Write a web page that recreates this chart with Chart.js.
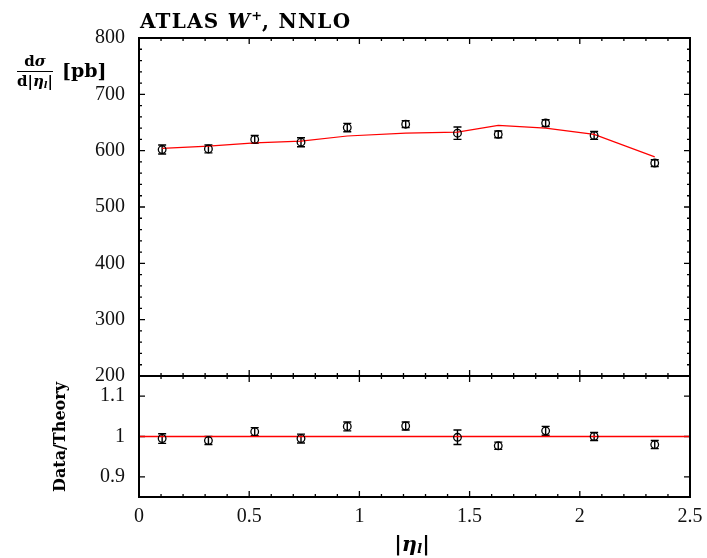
<!DOCTYPE html>
<html>
<head>
<meta charset="utf-8">
<script src="https://cdn.jsdelivr.net/npm/chart.js@4.4.0/dist/chart.umd.min.js"></script>
<style>
    body { margin: 0; background: #fff; width: 707px; height: 558px; position: relative; overflow: hidden; font-family: "Liberation Serif", serif; }
    #topBox { position: absolute; left: 0; top: 0; width: 707px; height: 400px; }
    #botBox { position: absolute; left: 0; top: 360px; width: 707px; height: 198px; }
    .lbl { position: absolute; color: #000; white-space: nowrap; font-weight: bold; line-height: 1; font-family: "DejaVu Serif", serif; }
    #title { left: 140px; top: 9px; font-size: 20px; letter-spacing: 1.2px; }
    #title sup { font-size: 13px; vertical-align: 8px; letter-spacing: 0; }
    #ylab { left: 17px; top: 54px; font-size: 19px; }
    .frac { display: inline-block; text-align: center; vertical-align: middle; font-size: 15px; margin-right: 9px; }
    .frac .num { display: block; border-bottom: 1px solid #000; padding: 0 1px 2px; }
    .frac .den { display: block; padding-top: 2px; }
    .frac sub, #xlab sub { font-size: 65%; vertical-align: -2px; }
    #rlab { left: 60px; top: 437px; font-size: 16px; transform: translate(-50%, -50%) rotate(-90deg); }
    #xlab { left: 412px; top: 533px; font-size: 21px; transform: translateX(-50%); }
</style>
</head>
<body>
<div id="topBox"><canvas id="xsecChart" width="707" height="400"></canvas></div>
<div id="botBox"><canvas id="ratioChart" width="707" height="198"></canvas></div>

<div class="lbl" id="title">ATLAS <i>W</i><sup>+</sup>, NNLO</div>
<div class="lbl" id="ylab"><span class="frac"><span class="num">d<i>σ</i></span><span class="den">d|<i>η<sub>l</sub></i>|</span></span>[pb]</div>
<div class="lbl" id="rlab">Data/Theory</div>
<div class="lbl" id="xlab">|<i>η<sub>l</sub></i>|</div>

<script>
// bins in |eta_l| (bin centres)
const etaCenters = [0.105, 0.315, 0.525, 0.735, 0.945, 1.21, 1.445, 1.63, 1.845, 2.065, 2.34];

// measured cross section [pb] and errors
const dataXsec = [602, 603, 620, 615, 641, 647, 631, 629, 649, 627, 578];
const dataXsecErr = [8, 7, 7, 8, 7.5, 6, 11, 6, 6, 7, 6];

// NNLO prediction [pb]
const theoryXsec = [604, 608, 614, 617, 626, 631, 633, 645, 640, 629, 589];

// data / theory
const ratioVals = [0.995, 0.990, 1.012, 0.995, 1.025, 1.026, 0.998, 0.977, 1.014, 1.000, 0.980];
const ratioErr = [0.012, 0.010, 0.010, 0.011, 0.011, 0.010, 0.018, 0.009, 0.011, 0.010, 0.010];
const ratioRef = [1, 1];

// axes
const xRange = [0, 2.5];
const xTicks = [0, 0.5, 1, 1.5, 2, 2.5];
const xsecTicks = [200, 300, 400, 500, 600, 700, 800];
const ratioTicks = [0.9, 1, 1.1];

const tickFont = { family: '"Liberation Serif", serif', size: 20 };
const tickColor = '#111';

// error bars with small caps, drawn under the open circles
const errorBars = {
    id: 'errorBars',
    beforeDatasetsDraw(chart) {
        const ctx = chart.ctx;
        const yScale = chart.scales.y;
        chart.data.datasets.forEach((ds, i) => {
            if (!ds.errors) return;
            const meta = chart.getDatasetMeta(i);
            ctx.save();
            ctx.strokeStyle = '#000';
            ctx.lineWidth = 1.4;
            meta.data.forEach((pt, j) => {
                const v = ds.data[j].y;
                const yHi = yScale.getPixelForValue(v + ds.errors[j]);
                const yLo = yScale.getPixelForValue(v - ds.errors[j]);
                ctx.beginPath();
                ctx.moveTo(pt.x, yHi); ctx.lineTo(pt.x, yLo);
                ctx.moveTo(pt.x - 4, yHi); ctx.lineTo(pt.x + 4, yHi);
                ctx.moveTo(pt.x - 4, yLo); ctx.lineTo(pt.x + 4, yLo);
                ctx.stroke();
            });
            ctx.restore();
        });
    }
};

// gnuplot-like frame with inward ticks on all four sides
// ticks go under the curves, the frame on top
const frameTicks = {
    id: 'frameTicks',
    beforeDatasetsDraw(chart, args, opts) {
        const { ctx, chartArea: a, scales: { x, y } } = chart;
        ctx.save();
        ctx.strokeStyle = '#000';
        ctx.lineWidth = 1.3;
        ctx.beginPath();
        // x ticks: major + minor
        const nx = Math.round((x.max - x.min) / opts.xMinor);
        for (let i = 0; i <= nx; i++) {
            const v = x.min + i * opts.xMinor;
            const len = (i % opts.xEvery === 0) ? 6 : 3;
            const px = x.getPixelForValue(v);
            ctx.moveTo(px, a.bottom); ctx.lineTo(px, a.bottom - len);
            ctx.moveTo(px, a.top); ctx.lineTo(px, a.top + len);
        }
        // y ticks
        const ny = Math.round((opts.yEnd - opts.yStart) / opts.yMinor);
        for (let i = 0; i <= ny; i++) {
            const v = opts.yStart + i * opts.yMinor;
            const len = (i % opts.yEvery === 0) ? 6 : 3;
            const py = y.getPixelForValue(v);
            ctx.moveTo(a.left, py); ctx.lineTo(a.left + len, py);
            ctx.moveTo(a.right, py); ctx.lineTo(a.right - len, py);
        }
        ctx.stroke();
        ctx.restore();
    },
    afterDatasetsDraw(chart) {
        const { ctx, chartArea: a } = chart;
        ctx.save();
        ctx.strokeStyle = '#000';
        ctx.lineWidth = 2;
        ctx.strokeRect(a.left, a.top, a.right - a.left, a.bottom - a.top);
        ctx.restore();
    }
};

const pts = (xs, ys) => xs.map((v, i) => ({ x: v, y: ys[i] }));

const markerStyle = {
    showLine: false,
    pointStyle: 'circle',
    pointRadius: 3.8,
    pointBorderWidth: 1.3,
    pointBorderColor: '#000',
    pointBackgroundColor: 'rgba(0,0,0,0)'
};

// keep the plot area where the layout padding puts it (tick labels may overhang)
const fixYWidth = s => { s.width = 139; s.paddingTop = 0; s.paddingBottom = 0; };
const fixXHeight = s => { s.height = 61; s.paddingLeft = 0; s.paddingRight = 0; };

new Chart(document.getElementById('xsecChart'), {
    type: 'scatter',
    data: {
        datasets: [
            {
                label: 'NNLO',
                data: pts(etaCenters, theoryXsec),
                showLine: true,
                borderColor: '#ff0000',
                borderWidth: 1.2,
                pointRadius: 0,
                order: 2
            },
            Object.assign({ label: 'ATLAS', data: pts(etaCenters, dataXsec), errors: dataXsecErr, order: 1 }, markerStyle)
        ]
    },
    options: {
        responsive: false,
        animation: false,
        layout: { padding: { left: 0, right: 17, top: 38, bottom: 24 } },
        plugins: {
            legend: { display: false },
            tooltip: { enabled: false },
            frameTicks: { xMinor: 0.1, xEvery: 5, yStart: 200, yEnd: 800, yMinor: 20, yEvery: 5 }
        },
        scales: {
            x: { type: 'linear', min: xRange[0], max: xRange[1], display: false },
            y: {
                type: 'linear', min: 200, max: 800,
                afterBuildTicks: s => { s.ticks = xsecTicks.map(v => ({ value: v })); },
                afterFit: fixYWidth,
                grid: { display: false, drawTicks: false },
                border: { display: false },
                ticks: { font: tickFont, color: tickColor, padding: 14 }
            }
        }
    },
    plugins: [errorBars, frameTicks]
});

new Chart(document.getElementById('ratioChart'), {
    type: 'scatter',
    data: {
        datasets: [
            {
                label: 'Theory',
                data: pts(xRange, ratioRef),
                showLine: true,
                borderColor: '#ff0000',
                borderWidth: 1.4,
                pointRadius: 0,
                order: 2
            },
            Object.assign({ label: 'Data/Theory', data: pts(etaCenters, ratioVals), errors: ratioErr, order: 1 }, markerStyle)
        ]
    },
    options: {
        responsive: false,
        animation: false,
        layout: { padding: { left: 0, right: 17, top: 16, bottom: 0 } },
        plugins: {
            legend: { display: false },
            tooltip: { enabled: false },
            frameTicks: { xMinor: 0.1, xEvery: 5, yStart: 0.9, yEnd: 1.1, yMinor: 0.1, yEvery: 1 }
        },
        scales: {
            x: {
                type: 'linear', min: xRange[0], max: xRange[1],
                afterBuildTicks: s => { s.ticks = xTicks.map(v => ({ value: v })); },
                afterFit: fixXHeight,
                grid: { display: false, drawTicks: false },
                border: { display: false },
                ticks: { font: tickFont, color: tickColor, padding: 8, maxRotation: 0, callback: v => String(v) }
            },
            y: {
                type: 'linear', min: 0.85, max: 1.15,
                afterBuildTicks: s => { s.ticks = ratioTicks.map(v => ({ value: v })); },
                afterFit: fixYWidth,
                grid: { display: false, drawTicks: false },
                border: { display: false },
                ticks: { font: tickFont, color: tickColor, padding: 14, callback: v => String(v) }
            }
        }
    },
    plugins: [errorBars, frameTicks]
});
</script>
</body>
</html>
